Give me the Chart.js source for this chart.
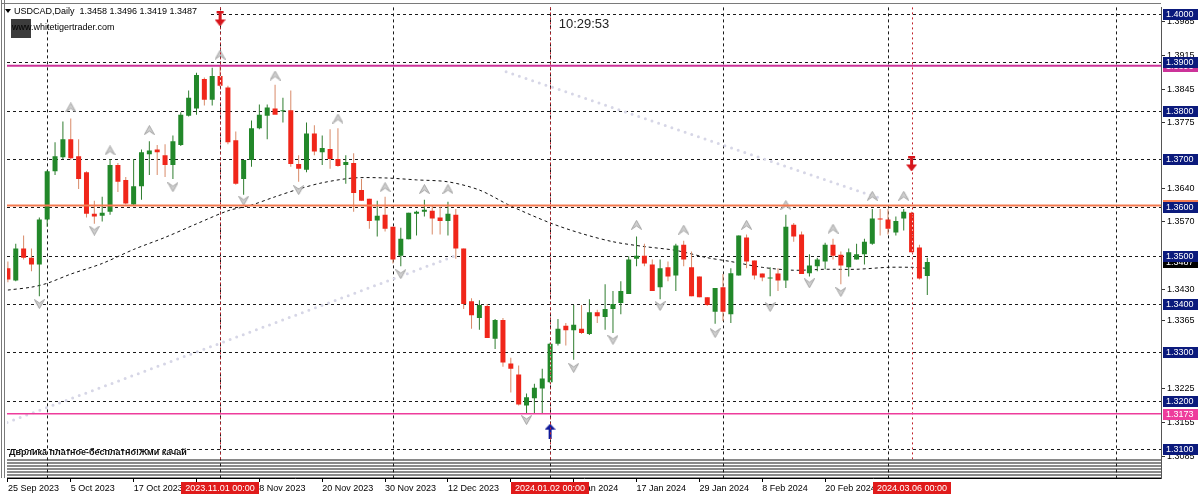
<!DOCTYPE html>
<html>
<head>
<meta charset="utf-8">
<script src="https://cdn.jsdelivr.net/npm/chart.js@4.4.1/dist/chart.umd.min.js"></script>
<style>
html, body { margin: 0; padding: 0; background: #fff; }
</style>
</head>
<body>
<canvas id="chart" width="1200" height="496"></canvas>
<script>
// USDCAD daily candles, 25 Sep 2023 .. 8 Mar 2024 (bar index 0..117)
var opens = [1.3474,1.3449,1.3515,1.3496,1.3482,1.3575,1.3675,1.3704,1.3741,1.3706,
  1.3673,1.3587,1.3583,1.3591,1.3688,1.3657,1.3606,1.3644,1.3710,1.3720,
  1.3708,1.3688,1.3729,1.3790,1.3805,1.3866,1.3823,1.3872,1.3848,1.3739,
  1.3659,1.3698,1.3764,1.3790,1.3805,1.3799,1.3801,1.3690,1.3678,1.3753,
  1.3714,1.3721,1.3700,1.3688,1.3692,1.3636,1.3618,1.3573,1.3585,1.3560,
  1.3500,1.3534,1.3587,1.3591,1.3593,1.3579,1.3572,1.3585,1.3515,1.3406,
  1.3371,1.3396,1.3328,1.3367,1.3277,1.3254,1.3190,1.3205,1.3225,1.3238,
  1.3318,1.3355,1.3346,1.3349,1.3338,1.3383,1.3373,1.3390,1.3402,1.3421,
  1.3494,1.3500,1.3482,1.3435,1.3476,1.3459,1.3523,1.3476,1.3457,1.3414,
  1.3384,1.3435,1.3379,1.3459,1.3538,1.3490,1.3463,1.3453,1.3463,1.3449,
  1.3564,1.3544,1.3464,1.3478,1.3488,1.3523,1.3502,1.3476,1.3492,1.3503,
  1.3525,1.3577,1.3575,1.3548,1.3577,1.3589,1.3517,1.3458];
var highs = [1.3488,1.3525,1.3542,1.3515,1.3579,1.3677,1.3735,1.3778,1.3784,1.3741,
  1.3675,1.3614,1.3622,1.3700,1.3692,1.3663,1.3700,1.3720,1.3737,1.3729,
  1.3731,1.3749,1.3797,1.3842,1.3879,1.3869,1.3889,1.3893,1.3852,1.3757,
  1.3698,1.3780,1.3813,1.3813,1.3854,1.3827,1.3842,1.3708,1.3776,1.3770,
  1.3749,1.3762,1.3764,1.3708,1.3712,1.3659,1.3618,1.3614,1.3622,1.3560,
  1.3558,1.3589,1.3593,1.3616,1.3603,1.3601,1.3612,1.3597,1.3515,1.3412,
  1.3408,1.3400,1.3369,1.3371,1.3289,1.3273,1.3215,1.3235,1.3266,1.3320,
  1.3369,1.3361,1.3398,1.3398,1.3410,1.3388,1.3441,1.3427,1.3447,1.3499,
  1.3540,1.3525,1.3492,1.3492,1.3488,1.3525,1.3531,1.3509,1.3457,1.3414,
  1.3433,1.3462,1.3474,1.3542,1.3544,1.3490,1.3463,1.3476,1.3474,1.3585,
  1.3568,1.3550,1.3503,1.3496,1.3527,1.3535,1.3509,1.3515,1.3525,1.3535,
  1.3597,1.3597,1.3597,1.3581,1.3597,1.3591,1.3523,1.3496];
var lows = [1.3445,1.3447,1.3492,1.3468,1.3416,1.3560,1.3667,1.3700,1.3698,1.3638,
  1.3579,1.3566,1.3571,1.3585,1.3632,1.3606,1.3604,1.3616,1.3667,1.3667,
  1.3663,1.3659,1.3727,1.3788,1.3792,1.3811,1.3811,1.3850,1.3731,1.3647,
  1.3626,1.3684,1.3762,1.3741,1.3794,1.3776,1.3684,1.3653,1.3673,1.3708,
  1.3688,1.3680,1.3684,1.3649,1.3591,1.3614,1.3556,1.3540,1.3550,1.3484,
  1.3478,1.3534,1.3542,1.3581,1.3544,1.3544,1.3542,1.3494,1.3390,1.3349,
  1.3347,1.3330,1.3307,1.3270,1.3217,1.3190,1.3174,1.3174,1.3174,1.3236,
  1.3314,1.3314,1.3285,1.3338,1.3336,1.3361,1.3347,1.3340,1.3379,1.3421,
  1.3478,1.3478,1.3427,1.3410,1.3447,1.3427,1.3478,1.3416,1.3414,1.3396,
  1.3359,1.3365,1.3361,1.3459,1.3474,1.3451,1.3447,1.3416,1.3427,1.3433,
  1.3529,1.3462,1.3457,1.3468,1.3472,1.3492,1.3441,1.3457,1.3492,1.3482,
  1.3523,1.3542,1.3544,1.3542,1.3552,1.3507,1.3451,1.3419];
var closes = [1.3451,1.3515,1.3496,1.3482,1.3575,1.3675,1.3706,1.3741,1.3702,1.3659,
  1.3587,1.3581,1.3589,1.3688,1.3653,1.3608,1.3644,1.3714,1.3718,1.3714,
  1.3688,1.3737,1.3792,1.3827,1.3874,1.3823,1.3872,1.3852,1.3735,1.3649,
  1.3698,1.3764,1.3792,1.3807,1.3792,1.3801,1.3690,1.3680,1.3753,1.3716,
  1.3723,1.3700,1.3686,1.3694,1.3630,1.3614,1.3572,1.3583,1.3556,1.3492,
  1.3535,1.3589,1.3591,1.3595,1.3577,1.3572,1.3587,1.3515,1.3400,1.3377,
  1.3398,1.3330,1.3367,1.3279,1.3266,1.3192,1.3207,1.3227,1.3246,1.3318,
  1.3349,1.3346,1.3357,1.3340,1.3383,1.3375,1.3390,1.3400,1.3427,1.3492,
  1.3500,1.3484,1.3427,1.3474,1.3457,1.3521,1.3492,1.3416,1.3414,1.3398,
  1.3433,1.3384,1.3464,1.3542,1.3488,1.3459,1.3455,1.3455,1.3449,1.3560,
  1.3540,1.3462,1.3480,1.3492,1.3523,1.3500,1.3480,1.3507,1.3503,1.3529,
  1.3577,1.3575,1.3556,1.3572,1.3591,1.3507,1.3453,1.3487];

// time axis
var tickIdx = [0, 8, 16, 24, 32, 40, 48, 56, 64, 72, 80, 88, 96, 104];
var tickLabels = ['25 Sep 2023', '5 Oct 2023', '17 Oct 2023', '27 Oct 2023', '8 Nov 2023',
  '20 Nov 2023', '30 Nov 2023', '12 Dec 2023', '22 Dec 2023', '5 Jan 2024',
  '17 Jan 2024', '29 Jan 2024', '8 Feb 2024', '20 Feb 2024'];
var markIdx = [27, 69, 115];
var markText = ['2023.11.01 00:00', '2024.01.02 00:00', '2024.03.06 00:00'];
var separators = [5, 27, 49, 69, 91, 112, 141];

// price axis
var priceTicks = [1.3985, 1.3915, 1.3845, 1.3775, 1.3640, 1.3570, 1.3430, 1.3365,
  1.3225, 1.3155, 1.3085];
var levels = [1.4000, 1.3900, 1.3800, 1.3700, 1.3600, 1.3500, 1.3400, 1.3300, 1.3200, 1.3100];
var lastPrice = 1.3487;
var magentaTop = 1.3893, orangeLine = 1.3604, magentaLow = 1.3173;

// moving average
var maIdx = [0, 3, 5, 8, 12, 16, 20, 24, 28, 31, 34, 37, 40, 44, 48, 52, 56, 60, 64,
  69, 73, 77, 81, 85, 89, 92, 96, 100, 104, 108, 112, 115, 117];
var maVal = [1.3429, 1.3435, 1.3443, 1.3462, 1.3484, 1.3513, 1.3538, 1.3566, 1.3593,
  1.3605, 1.3622, 1.3638, 1.3651, 1.3661, 1.3661, 1.3657, 1.3653, 1.3636, 1.3603,
  1.3568, 1.3546, 1.3529, 1.3519, 1.3511, 1.3496, 1.3488, 1.3476, 1.3470, 1.3472,
  1.3472, 1.3476, 1.3476, 1.3474];

// fractals
var fracUpIdx = [8, 13, 18, 27, 34, 42, 48, 53, 56, 80, 86, 94, 99, 105, 110, 114];
var fracUpVal = [1.3807, 1.3718, 1.3760, 1.3916, 1.3873, 1.3784, 1.3642, 1.3638, 1.3638,
  1.3564, 1.3554, 1.3564, 1.3605, 1.3556, 1.3624, 1.3624];
var fracDnIdx = [4, 11, 21, 30, 37, 50, 66, 72, 77, 83, 90, 97, 102, 106];
var fracDnVal = [1.3400, 1.3552, 1.3642, 1.3614, 1.3636, 1.3462, 1.3160, 1.3268, 1.3326,
  1.3396, 1.3340, 1.3394, 1.3443, 1.3425];

// signal arrows
var sigDnIdx = [27, 115], sigDnVal = [1.3990, 1.3690];
var sigUpIdx = [69], sigUpVal = [1.3137];

// dotted trend lines
var trendAIdx = [-0.11, 56.8], trendAVal = [1.3155, 1.3499];
var trendBIdx = [63.4, 110.8], trendBVal = [1.3881, 1.3620];

var GREEN = '#22882a', RED = '#f0261a';
var FONT = "'Liberation Sans', Arial, sans-serif";

function pts(xs, ys) {
  return xs.map(function (x, i) { return { x: x, y: ys[i] }; });
}

function chevron(up) {
  var c = document.createElement('canvas');
  c.width = 11; c.height = 10;
  var g = c.getContext('2d');
  g.beginPath();
  if (up) {
    g.moveTo(0.5, 9.5); g.lineTo(5.5, 0.5); g.lineTo(10.5, 9.5); g.lineTo(5.5, 6);
  } else {
    g.moveTo(0.5, 0.5); g.lineTo(5.5, 9.5); g.lineTo(10.5, 0.5); g.lineTo(5.5, 4);
  }
  g.closePath();
  g.fillStyle = '#cfcfcf'; g.fill();
  g.strokeStyle = '#a5a5a5'; g.lineWidth = 1; g.stroke();
  return c;
}

function signal(up, color) {
  var c = document.createElement('canvas');
  c.width = 11; c.height = 15;
  var g = c.getContext('2d');
  g.fillStyle = color;
  if (up) {
    g.beginPath(); g.moveTo(5.5, 0); g.lineTo(11, 6); g.lineTo(0, 6); g.closePath(); g.fill();
    g.fillRect(4, 5, 3, 10);
  } else {
    g.fillRect(2, 0, 7, 2);
    g.fillRect(4, 0, 3, 10);
    g.beginPath(); g.moveTo(0, 8); g.lineTo(11, 8); g.lineTo(5.5, 15); g.closePath(); g.fill();
  }
  return c;
}

var up = closes.map(function (c, i) { return c >= opens[i]; });

var backPlugin = {
  id: 'back',
  beforeDatasetsDraw: function (chart) {
    var ctx = chart.ctx, a = chart.chartArea, x = chart.scales.x, y = chart.scales.y;
    ctx.save();
    var top = Math.round(y.getPixelForValue(1.3079));
    ctx.fillStyle = '#8a8a8a';
    ctx.fillRect(a.left, top, a.right - a.left, a.bottom - top);
    ctx.fillStyle = '#ffffff';
    for (var yy = top + 2; yy < a.bottom - 1; yy += 3) ctx.fillRect(a.left, yy, a.right - a.left, 1);
    ctx.lineWidth = 1;
    ctx.strokeStyle = '#1a1a1a';
    ctx.setLineDash([3, 3]);
    levels.forEach(function (v) {
      var p = Math.round(y.getPixelForValue(v)) + 0.5;
      ctx.beginPath(); ctx.moveTo(a.left, p); ctx.lineTo(a.right, p); ctx.stroke();
    });
    separators.forEach(function (i) {
      var p = Math.round(x.getPixelForValue(i)) + 0.5;
      ctx.beginPath(); ctx.moveTo(p, a.top); ctx.lineTo(p, a.bottom); ctx.stroke();
    });
    ctx.restore();
  },
  afterDatasetsDraw: function (chart) {
    var ctx = chart.ctx, a = chart.chartArea, x = chart.scales.x, y = chart.scales.y;
    ctx.save();
    // highlighted candles
    ctx.strokeStyle = 'rgba(255,255,255,0.85)';
    ctx.lineWidth = 1;
    ctx.setLineDash([2, 2]);
    markIdx.forEach(function (i) {
      var p = Math.round(x.getPixelForValue(i)) + 0.5;
      ctx.beginPath();
      ctx.moveTo(p, y.getPixelForValue(opens[i]));
      ctx.lineTo(p, y.getPixelForValue(closes[i]));
      ctx.stroke();
    });
    // red dotted time markers
    ctx.strokeStyle = '#c0202a';
    ctx.setLineDash([2, 3]);
    markIdx.forEach(function (i) {
      var p = Math.round(x.getPixelForValue(i)) + 0.5;
      ctx.beginPath(); ctx.moveTo(p, a.top); ctx.lineTo(p, y.getPixelForValue(1.3079)); ctx.stroke();
    });
    ctx.setLineDash([]);
    function hline(v, color, w) {
      var p = y.getPixelForValue(v);
      ctx.strokeStyle = color; ctx.lineWidth = w;
      ctx.beginPath(); ctx.moveTo(a.left, p); ctx.lineTo(a.right, p); ctx.stroke();
    }
    hline(magentaTop, '#cc3399', 2);
    hline(orangeLine, '#f47a50', 2);
    hline(magentaLow, '#ee3c9c', 1.5);
    ctx.restore();
  },
  afterDraw: function (chart) {
    var ctx = chart.ctx, a = chart.chartArea, x = chart.scales.x, y = chart.scales.y;
    ctx.save();
    // frame
    ctx.fillStyle = '#7a7a7a';
    ctx.fillRect(1, 0, 1, a.bottom);
    ctx.fillRect(4, 0, 1, a.bottom);
    ctx.fillRect(1, 3, a.right - 1, 1);
    // price boxes
    ctx.font = '9px ' + FONT;
    ctx.textBaseline = 'middle';
    function box(v, bg, fg) {
      var p = Math.round(y.getPixelForValue(v));
      ctx.fillStyle = bg;
      ctx.fillRect(a.right + 2, p - 5, 35, 11);
      ctx.fillStyle = fg;
      ctx.textAlign = 'left';
      ctx.fillText(v.toFixed(4), a.right + 5, p + 0.5);
    }
    box(lastPrice, '#000000', '#ffffff');
    box(orangeLine, '#f47a50', '#ffffff');
    box(magentaTop, '#cc3399', '#ffffff');
    box(magentaLow, '#ee3c9c', '#ffffff');
    levels.forEach(function (v) { box(v, '#0b1a7c', '#ffffff'); });
    // time boxes
    markIdx.forEach(function (i, k) {
      var p = Math.round(x.getPixelForValue(i));
      ctx.fillStyle = '#e01b1b';
      ctx.fillRect(p - 39, a.bottom + 4, 78, 12);
      ctx.fillStyle = '#ffffff';
      ctx.textAlign = 'center';
      ctx.fillText(markText[k], p, a.bottom + 10.5);
    });
    // header
    ctx.fillStyle = '#ffffff';
    ctx.fillRect(5, 5, 205, 12);
    ctx.fillStyle = '#000000';
    ctx.beginPath(); ctx.moveTo(5, 9); ctx.lineTo(11, 9); ctx.lineTo(8, 13); ctx.closePath(); ctx.fill();
    ctx.textAlign = 'left';
    ctx.fillText('USDCAD,Daily  1.3458 1.3496 1.3419 1.3487', 14, 11.5);
    ctx.fillStyle = '#3c3c3c';
    ctx.fillRect(11, 19, 20, 19);
    ctx.fillStyle = '#000000';
    ctx.fillText('www.whitetigertrader.com', 12, 27.5);
    ctx.font = '13px ' + FONT;
    ctx.fillStyle = '#222222';
    ctx.textAlign = 'center';
    ctx.fillText('10:29:53', 584, 24);
    ctx.font = 'bold 9px ' + FONT;
    ctx.textAlign = 'left';
    ctx.fillStyle = '#111111';
    ctx.fillText('Дврлика платное-бесплатно!Жми качай', 9, 453);
    ctx.restore();
  }
};

new Chart(document.getElementById('chart').getContext('2d'), {
  type: 'bar',
  data: {
    datasets: [
      {
        type: 'scatter', order: 1, data: pts(sigDnIdx, sigDnVal),
        pointStyle: signal(false, '#d8141a'), pointRadius: 6
      },
      {
        type: 'scatter', order: 1, data: pts(sigUpIdx, sigUpVal),
        pointStyle: signal(true, '#101a9a'), pointRadius: 6
      },
      {
        type: 'scatter', order: 2, data: pts(fracUpIdx, fracUpVal),
        pointStyle: chevron(true), pointRadius: 5
      },
      {
        type: 'scatter', order: 2, data: pts(fracDnIdx, fracDnVal),
        pointStyle: chevron(false), pointRadius: 5
      },
      {
        order: 3, grouped: false, barThickness: 5, minBarLength: 1, inflateAmount: 0,
        data: opens.map(function (o, i) { return { x: i, y: [o, closes[i]] }; }),
        backgroundColor: up.map(function (u) { return u ? GREEN : RED; })
      },
      {
        order: 4, grouped: false, barThickness: 1, inflateAmount: 0,
        data: lows.map(function (l, i) { return { x: i, y: [l, highs[i]] }; }),
        backgroundColor: up.map(function (u) { return u ? '#2f7d2f' : '#d88a68'; })
      },
      {
        type: 'line', order: 5, data: pts(maIdx, maVal),
        borderColor: '#111111', borderWidth: 1, borderDash: [3, 3],
        pointRadius: 0, tension: 0.3
      },
      {
        type: 'line', order: 6, data: pts(trendAIdx, trendAVal),
        borderColor: '#d6d6e6', borderWidth: 3, borderDash: [0, 7],
        borderCapStyle: 'round', pointRadius: 0
      },
      {
        type: 'line', order: 6, data: pts(trendBIdx, trendBVal),
        borderColor: '#d6d6e6', borderWidth: 3, borderDash: [0, 7],
        borderCapStyle: 'round', pointRadius: 0
      }
    ]
  },
  options: {
    responsive: false,
    animation: false,
    devicePixelRatio: 1,
    layout: { padding: { left: 5, top: 4, right: 0, bottom: 0 } },
    plugins: { legend: { display: false }, tooltip: { enabled: false } },
    scales: {
      x: {
        type: 'linear', min: -0.114, max: 146.74, offset: false,
        afterBuildTicks: function (s) { s.ticks = tickIdx.map(function (v) { return { value: v }; }); },
        afterFit: function (s) { s.height = 18; },
        ticks: {
          autoSkip: false, maxRotation: 0, minRotation: 0, align: 'start', padding: 1,
          color: '#000', font: { family: FONT, size: 9 },
          callback: function (v) { var k = tickIdx.indexOf(v); return k < 0 ? '' : tickLabels[k]; }
        },
        grid: { drawOnChartArea: false, offset: false, tickLength: 4, color: '#000' },
        border: { color: '#000' }
      },
      y: {
        position: 'right', min: 1.3040, max: 1.4014,
        afterBuildTicks: function (s) { s.ticks = priceTicks.map(function (v) { return { value: v }; }); },
        afterFit: function (s) { s.width = 39; },
        ticks: {
          padding: 2, color: '#000', font: { family: FONT, size: 9 },
          callback: function (v) { return v.toFixed(4); }
        },
        grid: { drawOnChartArea: false, tickLength: 4, color: '#333' },
        border: { color: '#555' }
      }
    }
  },
  plugins: [backPlugin]
});
</script>
</body>
</html>
